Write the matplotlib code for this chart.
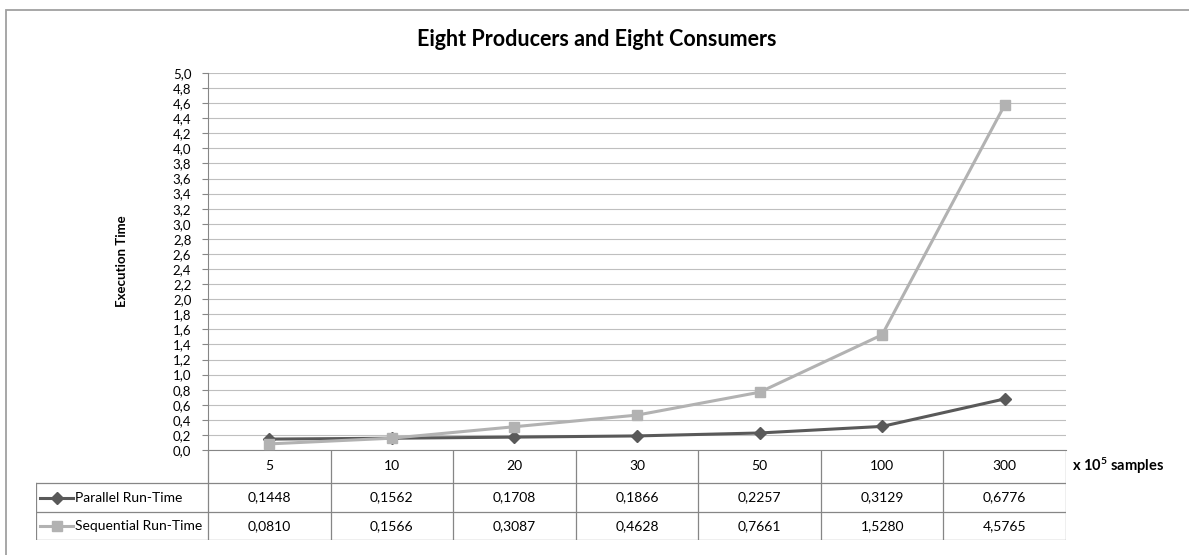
import matplotlib.pyplot as plt
from matplotlib.patches import Rectangle
from matplotlib.lines import Line2D

plt.rcParams['font.family'] = ['Lato', 'DejaVu Sans']
plt.rcParams['mathtext.default'] = 'regular'

# dados
amostras = ['5', '10', '20', '30', '50', '100', '300']
paralelo = [0.1448, 0.1562, 0.1708, 0.1866, 0.2257, 0.3129, 0.6776]
sequencial = [0.0810, 0.1566, 0.3087, 0.4628, 0.7661, 1.5280, 4.5765]
series = ['Parallel Run-Time', 'Sequential Run-Time']
cores = ['#595959', '#b2b2b2']
marcadores = ['D', 's']

W, H = 1189, 555
fig = plt.figure(figsize=(W / 100, H / 100), dpi=100)

# moldura
fig.add_artist(Rectangle((6 / W, -0.05), 1.1, 1.05 - 9.5 / H, transform=fig.transFigure,
                         fill=False, edgecolor='#a0a0a0', linewidth=1.3))

# area do grafico (em pixels)
x0, x1, y0, y1 = 208, 1066, 450, 73
ax = fig.add_axes([x0 / W, 1 - y0 / H, (x1 - x0) / W, (y0 - y1) / H])

x = list(range(len(amostras)))
ax.plot(x, paralelo, color=cores[0], marker=marcadores[0], markersize=6, linewidth=2.2, zorder=3)
ax.plot(x, sequencial, color=cores[1], marker=marcadores[1], markersize=7, linewidth=2.2, zorder=3)

ax.set_xlim(-0.5, len(amostras) - 0.5)
ax.set_ylim(0, 5.0)
ticks = [i * 0.2 for i in range(26)]
ax.set_yticks(ticks)
ax.set_yticklabels([('%.1f' % t).replace('.', ',') for t in ticks], fontsize=9.5)
ax.set_xticks([])
ax.tick_params(axis='y', length=4, color='#868686', pad=8)
ax.grid(axis='y', color='#bfbfbf', linewidth=0.8)
ax.set_axisbelow(True)
for s in ['top', 'right']:
    ax.spines[s].set_visible(False)
ax.spines['left'].set_color('#868686')
ax.spines['bottom'].set_color('#868686')
ax.set_ylabel('Execution Time', fontsize=9.5, fontweight='bold', labelpad=32)

fig.text(597 / W, 1 - 40 / H, 'Eight Producers and Eight Consumers', ha='center', va='center',
         fontsize=15.5, fontweight='bold')

# tabela de dados
t_left, t_bottom = 36, 540
cw = (x1 - x0) / len(amostras)
tx = fig.add_axes([t_left / W, 1 - t_bottom / H, (x1 - t_left) / W, (t_bottom - y0) / H])
tx.set_xlim(t_left, x1)
tx.set_ylim(t_bottom, y0)
tx.axis('off')
lc = '#868686'
linhas = [y0, 483, 512, t_bottom]
for i in range(len(amostras) + 1):
    xv = x0 + i * cw
    tx.add_line(Line2D([xv, xv], [y0, t_bottom], color=lc, linewidth=0.9))
tx.add_line(Line2D([t_left, t_left], [linhas[1], t_bottom], color=lc, linewidth=0.9))
for yv in linhas[1:]:
    tx.add_line(Line2D([t_left, x1], [yv, yv], color=lc, linewidth=0.9))

for i, a in enumerate(amostras):
    tx.text(x0 + (i + 0.5) * cw, (linhas[0] + linhas[1]) / 2, a, ha='center', va='center', fontsize=10)
for r, vals in enumerate([paralelo, sequencial]):
    yc = (linhas[r + 1] + linhas[r + 2]) / 2
    for i, v in enumerate(vals):
        tx.text(x0 + (i + 0.5) * cw, yc, ('%.4f' % v).replace('.', ','), ha='center', va='center', fontsize=10)
    tx.add_line(Line2D([40, 73], [yc, yc], color=cores[r], linewidth=2.2))
    tx.plot([57], [yc], marker=marcadores[r], color=cores[r], markersize=6 if r == 0 else 7)
    tx.text(75, yc, series[r], ha='left', va='center', fontsize=10)

fig.text(1072 / W, 1 - 466 / H, r'x 10$^{5}$ samples', ha='left', va='center', fontsize=10.5,
         fontweight='bold')

fig.savefig('out.png', dpi=100)
